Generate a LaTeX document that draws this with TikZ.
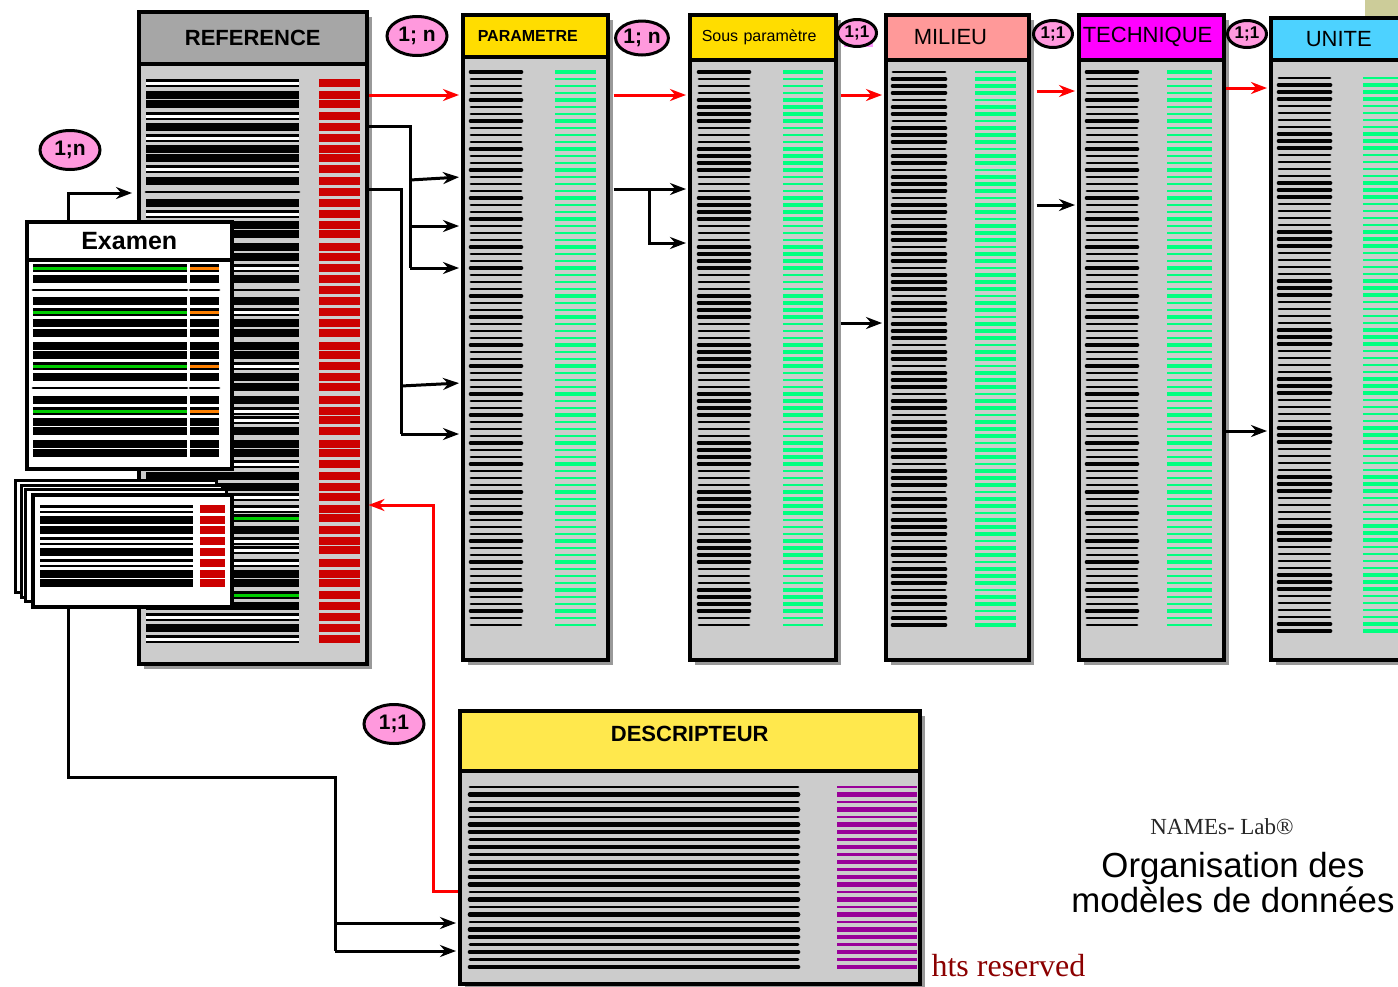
\documentclass[tikz,border=0pt]{standalone}
\usepackage{fontspec}
\setmainfont{Liberation Sans}
\newfontfamily\seriffont{Liberation Serif}
\usetikzlibrary{positioning, shapes.geometric, arrows.meta, shadows}
\definecolor{boxgray}{HTML}{CCCCCC}
\definecolor{headgray}{HTML}{A6A6A6}
\definecolor{paramyellow}{HTML}{FFDD00}
\definecolor{descyellow}{HTML}{FFE84D}
\definecolor{milieupink}{HTML}{FF9999}
\definecolor{techmagenta}{HTML}{FF00FF}
\definecolor{unitecyan}{HTML}{4DD2FF}
\definecolor{cardpink}{HTML}{FF99DD}
\definecolor{markpink}{HTML}{FF99FF}
\definecolor{barred}{HTML}{CC0000}
\definecolor{bargreen}{HTML}{00FF80}
\definecolor{exgreen}{HTML}{00CC00}
\definecolor{exorange}{HTML}{FF8000}
\definecolor{descpurple}{HTML}{990099}
\definecolor{khaki}{HTML}{CCCC99}
\definecolor{copyred}{HTML}{8B0000}

% rows of a table: black bars #1-#2, coloured bars #3-#4, first row #5, last index #6, spacing #7, colour #8, seed #9
\newcommand{\tablebars}[9]{%
  \foreach \i in {0,...,#6}{
    \pgfmathsetmacro{\yy}{#5+#7*\i}
    \pgfmathsetmacro{\lw}{mod(3*\i+\i*\i+#9,7)<3 ? 4.7 : 2.9}
    \draw[line width=\lw pt, line cap=round] (#1,\yy) -- (#2,\yy);
    \draw[line width=\lw pt, #8] (#3,\yy) -- (#4,\yy);
  }}

\begin{document}
\begin{tikzpicture}[x=1pt, y=-1pt,
    tablebox/.style={draw, line width=3.5pt, fill=boxgray, anchor=north west, inner sep=0pt,
      drop shadow={shadow xshift=5pt, shadow yshift=-5pt, fill=black!40, opacity=1}},
    headbox/.style={draw, line width=3.5pt, anchor=north west, inner sep=0pt},
    title/.style={font=\fontsize{22}{24}\selectfont},
    boldtitle/.style={font=\bfseries\fontsize{22}{24}\selectfont},
    card/.style={ellipse, draw, line width=3pt, fill=cardpink, inner sep=0pt,
      minimum width=60pt, minimum height=39pt, font=\bfseries\fontsize{21}{22}\selectfont},
    smallcard/.style={card, minimum width=39pt, minimum height=27pt, font=\bfseries\fontsize{17}{18}\selectfont},
    link/.style={line width=3pt, -{Stealth[length=16pt, width=12pt]}, shorten >=2pt},
    redlink/.style={link, red},
    rbw/.style={line width=2.4pt, double=white, double distance=3pt},
    rbb/.style={line width=8pt},
    rbt/.style={line width=2.8pt, line cap=round},
    rbg/.style={line width=2.4pt, double=exgreen, double distance=3pt},
    rbo/.style={line width=2.4pt, double=exorange, double distance=3pt}]
  \useasboundingbox (0,0) rectangle (1398,986);
  \fill[khaki] (1365,0) rectangle (1398,17);

  % REFERENCE
  \node[tablebox, minimum width=228pt, minimum height=652pt] (ref) at (137,10) {};
  \node[headbox, fill=headgray, minimum width=228pt, minimum height=52pt, boldtitle] (refhead) at (137,10) {REFERENCE};
  \foreach \ya/\kind in {83/rbw,95/rbb,104/rbb,116/rbw,127/rbb,138/rbw,149/rbb,158/rbb,169/rbw,181/rbb,
      192/rbt,203/rbb,214/rbw,225/rbb,234/rbb,247/rbb,257/rbb,268/rbw,279/rbb,290/rbt,301/rbb,312/rbw,
      323/rbb,333/rbb,346/rbb,355/rbb,366/rbw,377/rbb,387/rbb,400/rbb,411/rbw,420/rbw,431/rbb,444/rbb,
      453/rbb,464/rbw,476/rbb,487/rbb,497/rbw,509/rbw,518/rbg,530/rbb,541/rbw,550/rbw,563/rbw,574/rbb,
      583/rbb,595/rbg,606/rbb,617/rbw,628/rbb,639/rbw}{
    \draw[\kind] (146,\ya) -- (299,\ya);
    \draw[line width=8.5pt, barred] (319,\ya) -- (360,\ya);
  }

  % PARAMETRE ... UNITE
  \node[tablebox, minimum width=145pt, minimum height=645pt] (param) at (461,13) {};
  \node[headbox, fill=paramyellow, minimum width=145pt, minimum height=42pt, text width=115pt, align=left,
    font=\bfseries\fontsize{16}{18}\selectfont] (paramhead) at (461,13) {PARAMETRE};
  \tablebars{471}{521}{555}{596}{72}{79}{7}{bargreen}{0}

  \node[tablebox, minimum width=146pt, minimum height=645pt] (sous) at (688,13) {};
  \node[headbox, fill=paramyellow, minimum width=146pt, minimum height=45pt, text width=122pt, align=left,
    font=\fontsize{16}{18}\selectfont] (soushead) at (688,13) {Sous paramètre};
  \tablebars{699}{749}{783}{823}{72}{79}{7}{bargreen}{2}

  \node[tablebox, minimum width=143pt, minimum height=645pt] (milieu) at (884,13) {};
  \node[headbox, fill=milieupink, minimum width=143pt, minimum height=45pt, text width=87pt, align=left,
    title] (milieuhead) at (884,13) {MILIEU};
  \tablebars{893}{945}{975}{1016}{72}{79}{7}{bargreen}{4}

  \node[tablebox, minimum width=145pt, minimum height=645pt] (tech) at (1077,13) {};
  \node[headbox, fill=techmagenta, minimum width=145pt, minimum height=45pt, text width=137pt, align=left,
    title] (techhead) at (1077,13) {TECHNIQUE};
  \tablebars{1087}{1137}{1167}{1212}{72}{79}{7}{bargreen}{1}

  \node[tablebox, minimum width=150pt, minimum height=642pt] (unite) at (1269,16) {};
  \node[headbox, fill=unitecyan, minimum width=136pt, minimum height=42pt, title] (unitehead) at (1269,16) {UNITE};
  \tablebars{1279}{1330}{1363}{1402}{78}{79}{7}{bargreen}{5}

  % DESCRIPTEUR
  \node[copyred, anchor=base west, font=\seriffont\fontsize{32}{33}\selectfont] (rights) at (928,976) {hts reserved};
  \node[tablebox, minimum width=460pt, minimum height=273pt] (desc) at (458,709) {};
  \node[headbox, fill=descyellow, minimum width=460pt, minimum height=60pt, text depth=14pt, boldtitle] (deschead) at (458,709) {DESCRIPTEUR};
  \tablebars{470}{798}{837}{917}{787}{24}{7.5}{descpurple}{3}

  % Examen
  \node[draw, line width=3.5pt, fill=white, anchor=north west, minimum width=205pt, minimum height=247pt] (exam) at (25,220) {};
  \node[headbox, fill=white, minimum width=205pt, minimum height=38pt, font=\bfseries\fontsize{25}{26}\selectfont] (examhead) at (25,220) {Examen};
  \foreach \ya/\ka/\kb in {268/rbg/rbo,279/rbb/rbb,290/rbt/rbt,301/rbb/rbb,312/rbg/rbo,323/rbb/rbb,
      333/rbb/rbb,346/rbb/rbb,355/rbb/rbb,366/rbg/rbo,377/rbb/rbb,388/rbt/rbt,400/rbb/rbb,411/rbg/rbo,
      422/rbb/rbb,431/rbb/rbb,444/rbb/rbb,453/rbb/rbb}{
    \draw[\ka] (33,\ya) -- (187,\ya);
    \draw[\kb] (190,\ya) -- (219,\ya);
  }

  % pile of pages
  \foreach \dx/\dy in {0/0,6/5,10/9}{
    \draw[line width=3pt, fill=white] (15+\dx,480+\dy) rectangle (216+\dx,592+\dy);
  }
  \node[draw, line width=3.5pt, fill=white, anchor=north west, minimum width=199pt, minimum height=112pt] (page) at (31,493) {};
  \foreach \ya/\kind in {509/rbw,520/rbb,530/rbb,541/rbw,552/rbb,563/rbw,574/rbb,583/rbb}{
    \draw[\kind] (40,\ya) -- (193,\ya);
    \draw[line width=8pt, barred] (200,\ya) -- (225,\ya);
  }

  % cardinalities
  \node[card] (cardexam) at (70,150) {1;n};
  \node[card] (cardparam) at (417,36) {1; n};
  \node[card, minimum width=50pt, minimum height=34pt] (cardsous) at (642,38) {1; n};
  \fill[markpink] (844,38) rectangle (873,47);
  \node[smallcard] (cardmilieu) at (857,33) {1;1};
  \node[smallcard] (cardtech) at (1053,34) {1;1};
  \node[smallcard] (cardunite) at (1247,34) {1;1};
  \node[card] (carddesc) at (394,724) {1;1};

  % links
  \draw[link, shorten >=5pt] (exam.north -| 68,0) -- (68,193) -- (ref.west |- 0,193);
  \draw[line width=3pt] (page.south -| 68,0) -- (68,777) -- (335,777) -- (335,951);
  \draw[link] (335,923) -- (desc.west |- 0,923);
  \draw[link] (335,951) -- (desc.west |- 0,951);
  \draw[redlink, shorten >=0pt] (desc.west |- 0,891) -- (433,891) -- (433,505) -- (ref.east |- 0,505);

  \draw[redlink] (ref.east |- 0,95) -- (param.west |- 0,95);
  \draw[line width=3pt] (ref.east |- 0,126) -- (410,126) -- (410,268);
  \draw[link] (410,180) -- (param.west |- 0,177);
  \draw[link] (410,226) -- (param.west |- 0,226);
  \draw[link] (410,268) -- (param.west |- 0,268);
  \draw[line width=3pt] (ref.east |- 0,189) -- (401,189) -- (401,434);
  \draw[link] (401,386) -- (param.west |- 0,383);
  \draw[link] (401,434) -- (param.west |- 0,434);

  \draw[redlink, shorten <=4pt] (param.east |- 0,95) -- (sous.west |- 0,95);
  \draw[link, shorten <=4pt] (param.east |- 0,189) -- (sous.west |- 0,189);
  \draw[link] (649,189) -- (649,243) -- (sous.west |- 0,243);

  \draw[redlink, shorten <=3pt] (sous.east |- 0,95) -- (milieu.west |- 0,95);
  \draw[link, shorten <=3pt] (sous.east |- 0,323) -- (milieu.west |- 0,323);

  \draw[redlink, shorten <=6pt] (milieu.east |- 0,91) -- (tech.west |- 0,91);
  \draw[link, shorten <=6pt] (milieu.east |- 0,205) -- (tech.west |- 0,205);

  \draw[redlink] (tech.east |- 0,88) -- (unite.west |- 0,88);
  \draw[link] (tech.east |- 0,431) -- (unite.west |- 0,431);

  % signature
  \node[text=black!85, font=\seriffont\fontsize{23}{24}\selectfont] (lab) at (1222,827) {NAMEs- Lab®};
  \node[align=center, font=\fontsize{34.8}{35}\selectfont] (orgtitle) at (1233,883) {Organisation des\\modèles de données};
\end{tikzpicture}
\end{document}
